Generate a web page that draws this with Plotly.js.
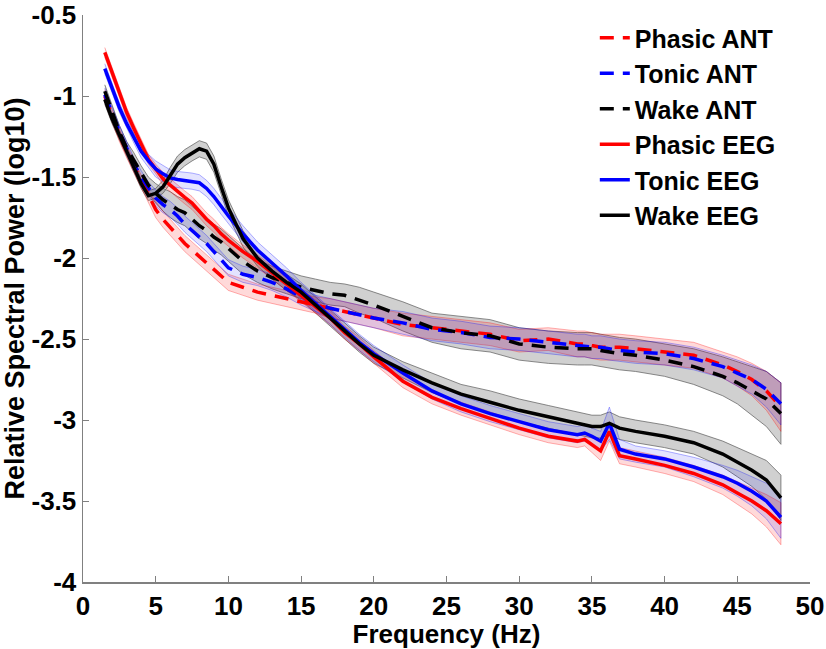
<!DOCTYPE html>
<html>
<head>
<meta charset="utf-8">
<script src="https://cdn.plot.ly/plotly-3.0.1.min.js"></script>
<style>
  html, body { margin: 0; padding: 0; background: #fff; }
  #chart { width: 826px; height: 649px; }
</style>
</head>
<body>
<div id="chart"></div>
<script>
// Relative spectral power, ANT vs scalp EEG, by state

const freq = [1.5, 2, 2.5, 3, 3.5, 4, 4.5, 5, 5.5, 6,
  6.5, 7, 7.5, 8, 8.5, 9, 9.5, 10, 11, 12,
  13, 14, 15, 16, 17, 18, 19, 20, 22, 24,
  26, 28, 30, 32, 34, 34.5, 35, 35.6, 36.2, 36.9,
  38, 40, 42, 44, 45, 46, 47, 48];

const phasicAnt = [-1.00, -1.12, -1.24, -1.34, -1.43, -1.52, -1.62, -1.70, -1.76, -1.81,
  -1.86, -1.91, -1.95, -1.99, -2.03, -2.07, -2.11, -2.15, -2.18, -2.21,
  -2.23, -2.25, -2.27, -2.29, -2.31, -2.33, -2.35, -2.37, -2.41, -2.43,
  -2.45, -2.47, -2.51, -2.50, -2.53, -2.53, -2.54, -2.55, -2.55, -2.55,
  -2.56, -2.58, -2.60, -2.66, -2.70, -2.75, -2.82, -2.92];
const phasicAntSem = [0.04, 0.04, 0.04, 0.04, 0.04, 0.04, 0.04, 0.05, 0.05, 0.05,
  0.05, 0.05, 0.05, 0.05, 0.05, 0.05, 0.05, 0.05, 0.05, 0.05,
  0.05, 0.05, 0.05, 0.05, 0.06, 0.06, 0.06, 0.06, 0.07, 0.07,
  0.07, 0.07, 0.07, 0.07, 0.08, 0.08, 0.08, 0.08, 0.08, 0.08,
  0.08, 0.08, 0.08, 0.08, 0.09, 0.10, 0.12, 0.15];

const tonicAnt = [-0.99, -1.11, -1.22, -1.32, -1.42, -1.50, -1.57, -1.63, -1.67, -1.70,
  -1.74, -1.79, -1.83, -1.87, -1.91, -1.96, -2.01, -2.06, -2.10, -2.12,
  -2.15, -2.19, -2.24, -2.28, -2.31, -2.33, -2.35, -2.37, -2.40, -2.44,
  -2.46, -2.49, -2.50, -2.52, -2.54, -2.54, -2.55, -2.55, -2.56, -2.57,
  -2.58, -2.59, -2.62, -2.67, -2.71, -2.75, -2.81, -2.90];
const tonicAntSem = [0.04, 0.04, 0.04, 0.04, 0.04, 0.04, 0.04, 0.05, 0.05, 0.05,
  0.05, 0.05, 0.05, 0.05, 0.05, 0.05, 0.05, 0.05, 0.05, 0.05,
  0.05, 0.05, 0.05, 0.05, 0.06, 0.06, 0.06, 0.06, 0.07, 0.07,
  0.07, 0.07, 0.07, 0.07, 0.07, 0.07, 0.07, 0.07, 0.07, 0.07,
  0.07, 0.07, 0.07, 0.07, 0.08, 0.09, 0.11, 0.13];

const wakeAnt = [-0.97, -1.10, -1.22, -1.32, -1.40, -1.48, -1.55, -1.60, -1.64, -1.67,
  -1.70, -1.72, -1.76, -1.80, -1.83, -1.87, -1.90, -1.94, -2.02, -2.08,
  -2.12, -2.15, -2.18, -2.20, -2.22, -2.23, -2.26, -2.29, -2.36, -2.43,
  -2.46, -2.48, -2.53, -2.55, -2.56, -2.56, -2.56, -2.57, -2.58, -2.59,
  -2.60, -2.63, -2.67, -2.73, -2.77, -2.82, -2.87, -2.96];
const wakeAntSem = [0.04, 0.04, 0.04, 0.04, 0.05, 0.05, 0.05, 0.06, 0.07, 0.08,
  0.08, 0.08, 0.08, 0.08, 0.08, 0.08, 0.08, 0.08, 0.08, 0.07,
  0.07, 0.07, 0.07, 0.07, 0.07, 0.07, 0.08, 0.08, 0.09, 0.09,
  0.10, 0.10, 0.10, 0.10, 0.10, 0.10, 0.10, 0.10, 0.10, 0.10,
  0.10, 0.10, 0.11, 0.12, 0.13, 0.15, 0.17, 0.19];

const phasicEeg = [-0.73, -0.85, -0.98, -1.10, -1.20, -1.30, -1.39, -1.45, -1.51, -1.55,
  -1.59, -1.625, -1.66, -1.71, -1.76, -1.80, -1.85, -1.89, -1.96, -2.02,
  -2.09, -2.16, -2.23, -2.30, -2.37, -2.46, -2.53, -2.61, -2.76, -2.86,
  -2.93, -2.99, -3.05, -3.10, -3.13, -3.12, -3.15, -3.19, -3.07, -3.22,
  -3.24, -3.28, -3.33, -3.40, -3.45, -3.50, -3.56, -3.64];
const phasicEegSem = [0.03, 0.03, 0.03, 0.03, 0.03, 0.03, 0.03, 0.03, 0.04, 0.04,
  0.04, 0.04, 0.04, 0.04, 0.04, 0.04, 0.04, 0.04, 0.04, 0.04,
  0.04, 0.04, 0.04, 0.04, 0.04, 0.04, 0.04, 0.04, 0.04, 0.04,
  0.04, 0.04, 0.04, 0.04, 0.04, 0.04, 0.05, 0.06, 0.06, 0.05,
  0.05, 0.05, 0.05, 0.06, 0.07, 0.08, 0.10, 0.13];

const tonicEeg = [-0.83, -0.95, -1.07, -1.17, -1.26, -1.34, -1.40, -1.45, -1.48, -1.505,
  -1.515, -1.52, -1.525, -1.535, -1.57, -1.62, -1.68, -1.74, -1.85, -1.95,
  -2.03, -2.11, -2.20, -2.28, -2.36, -2.44, -2.52, -2.59, -2.71, -2.82,
  -2.90, -2.96, -3.01, -3.06, -3.09, -3.08, -3.10, -3.13, -3.02, -3.18,
  -3.21, -3.24, -3.29, -3.35, -3.39, -3.44, -3.50, -3.60];
const tonicEegSem = [0.03, 0.03, 0.03, 0.03, 0.03, 0.04, 0.04, 0.05, 0.05, 0.05,
  0.05, 0.05, 0.05, 0.05, 0.05, 0.05, 0.05, 0.05, 0.05, 0.05,
  0.05, 0.05, 0.05, 0.05, 0.05, 0.05, 0.05, 0.05, 0.05, 0.05,
  0.05, 0.05, 0.05, 0.05, 0.05, 0.05, 0.05, 0.06, 0.10, 0.06,
  0.05, 0.05, 0.06, 0.07, 0.08, 0.09, 0.11, 0.13];

const wakeEeg = [-1.02, -1.14, -1.24, -1.335, -1.44, -1.54, -1.615, -1.60, -1.56, -1.49,
  -1.42, -1.38, -1.35, -1.325, -1.34, -1.42, -1.56, -1.69, -1.88, -2.00,
  -2.08, -2.15, -2.21, -2.29, -2.37, -2.45, -2.53, -2.60, -2.69, -2.77,
  -2.84, -2.89, -2.94, -2.98, -3.02, -3.03, -3.04, -3.04, -3.02, -3.05,
  -3.07, -3.10, -3.14, -3.21, -3.26, -3.31, -3.37, -3.48];
const wakeEegSem = [0.03, 0.03, 0.03, 0.03, 0.03, 0.03, 0.03, 0.03, 0.04, 0.05,
  0.05, 0.05, 0.05, 0.05, 0.05, 0.05, 0.05, 0.05, 0.05, 0.05,
  0.05, 0.05, 0.05, 0.05, 0.05, 0.05, 0.05, 0.05, 0.05, 0.06,
  0.06, 0.07, 0.07, 0.07, 0.07, 0.07, 0.07, 0.07, 0.07, 0.07,
  0.07, 0.07, 0.07, 0.08, 0.09, 0.10, 0.12, 0.14];

const yTicks = [-4, -3.5, -3, -2.5, -2, -1.5, -1, -0.5];
const yTickText = ['-4', '-3.5', '-3', '-2.5', '-2', '-1.5', '-1', '-0.5'];
const xTicks = [0, 5, 10, 15, 20, 25, 30, 35, 40, 45, 50];

const FONT = 'Liberation Sans, Arial, sans-serif';
const DASH = '14px,9px';

function band(mean, sem, fill, edge) {
  const upper = mean.map((v, i) => v + sem[i]);
  const lower = mean.map((v, i) => v - sem[i]).reverse();
  return {
    x: freq.concat(freq.slice().reverse()),
    y: upper.concat(lower),
    type: 'scatter',
    mode: 'lines',
    fill: 'toself',
    fillcolor: fill,
    line: {color: edge, width: 1},
    hoverinfo: 'skip',
    showlegend: false
  };
}

function line(name, mean, color, dash) {
  return {
    x: freq,
    y: mean,
    type: 'scatter',
    mode: 'lines',
    name: name,
    legendgroup: name,
    line: {color: color, width: 3.5, dash: dash}
  };
}

const GREY_FILL = 'rgba(120,120,120,0.35)';
const GREY_EDGE = 'rgba(90,90,90,0.7)';
const RED_FILL = 'rgba(255,0,0,0.15)';
const RED_EDGE = 'rgba(255,0,0,0.3)';
const BLUE_FILL = 'rgba(0,0,255,0.11)';
const BLUE_EDGE = 'rgba(0,0,255,0.3)';

const traces = [
  band(wakeAnt, wakeAntSem, GREY_FILL, GREY_EDGE),
  band(wakeEeg, wakeEegSem, GREY_FILL, GREY_EDGE),
  band(phasicAnt, phasicAntSem, RED_FILL, RED_EDGE),
  band(phasicEeg, phasicEegSem, RED_FILL, RED_EDGE),
  band(tonicAnt, tonicAntSem, BLUE_FILL, BLUE_EDGE),
  band(tonicEeg, tonicEegSem, BLUE_FILL, BLUE_EDGE),
  line('Phasic ANT', phasicAnt, '#ff0000', DASH),
  line('Tonic ANT', tonicAnt, '#0000ff', DASH),
  line('Wake ANT', wakeAnt, '#000000', DASH),
  line('Phasic EEG', phasicEeg, '#ff0000', 'solid'),
  line('Tonic EEG', tonicEeg, '#0000ff', 'solid'),
  line('Wake EEG', wakeEeg, '#000000', 'solid')
];

const axisCommon = {
  showgrid: false,
  zeroline: false,
  showline: true,
  linecolor: '#808080',
  linewidth: 1.5,
  ticks: 'inside',
  ticklen: 6,
  tickcolor: '#808080',
  tickwidth: 1,
  ticklabeloverflow: 'allow',
  tickfont: {family: FONT, size: 26, color: '#000', weight: 'bold'}
};

const layout = {
  width: 826,
  height: 649,
  margin: {l: 83, r: 16, t: 15, b: 67},
  paper_bgcolor: '#fff',
  plot_bgcolor: '#fff',
  showlegend: true,
  legend: {
    x: 0.704, y: 1.0, xanchor: 'left', yanchor: 'top',
    bgcolor: 'rgba(0,0,0,0)',
    font: {family: FONT, size: 25, color: '#000', weight: 'bold'},
    traceorder: 'grouped',
    tracegroupgap: 0
  },
  xaxis: Object.assign({}, axisCommon, {
    range: [0, 50],
    tickvals: xTicks,
    title: {text: 'Frequency (Hz)', font: {family: FONT, size: 26, color: '#000', weight: 'bold'}, standoff: 2}
  }),
  yaxis: Object.assign({}, axisCommon, {
    range: [-4, -0.499],
    tickvals: yTicks,
    ticktext: yTickText,
    title: {text: 'Relative Spectral Power (log10)', font: {family: FONT, size: 27, color: '#000', weight: 'bold'}, standoff: 2}
  })
};

Plotly.newPlot('chart', traces, layout, {displayModeBar: false, staticPlot: true});
</script>
</body>
</html>
